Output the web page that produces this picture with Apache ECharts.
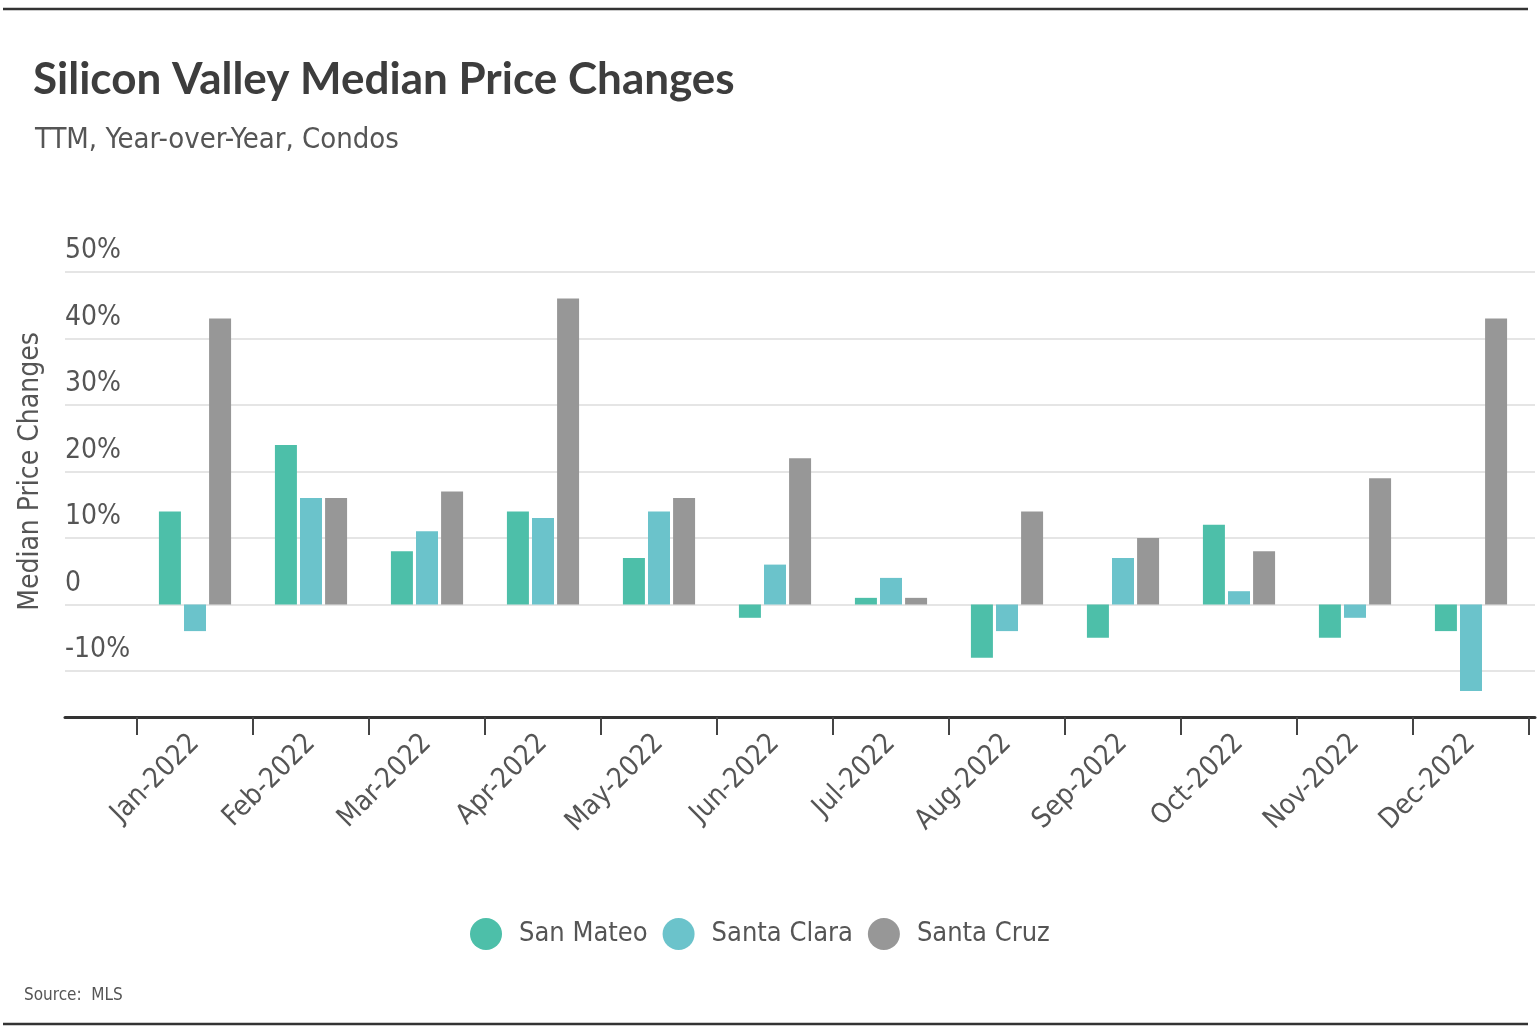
<!DOCTYPE html>
<html>
<head>
<meta charset="utf-8">
<script src="https://cdn.jsdelivr.net/npm/echarts@6/dist/echarts.min.js"></script>
<style>
  html, body { margin: 0; padding: 0; background: #fff; }
  #chart { width: 1540px; height: 1036px; }
</style>
</head>
<body>
<div id="chart"></div>
<script>
const categories = ['Jan-2022','Feb-2022','Mar-2022','Apr-2022','May-2022','Jun-2022','Jul-2022','Aug-2022','Sep-2022','Oct-2022','Nov-2022','Dec-2022'];
const sanMateo   = [14, 24, 8, 14, 7, -2, 1, -8, -5, 12, -5, -4];
const santaClara = [-4, 16, 11, 13, 14, 6, 4, -4, 7, 2, -2, -13];
const santaCruz  = [43, 16, 17, 46, 16, 22, 1, 14, 10, 8, 19, 43];
const yTicks = [-10, 0, 10, 20, 30, 40, 50];

const NARROW = '"Liberation Sans Narrow", "DejaVu Sans Condensed", "Roboto", sans-serif';
const TXT = '#555555';

const chart = echarts.init(document.getElementById('chart'));
const gridTop = 272, gridBottom = 1036 - 671;
chart.setOption({
  animation: false,
  backgroundColor: '#ffffff',
  title: [
    { text: 'Silicon Valley Median Price Changes', left: 28, top: 53,
      textStyle: { fontFamily: 'Lato, "Liberation Sans", sans-serif', fontWeight: 'bold', fontSize: 44, color: '#3d3d3d' } },
    { text: 'TTM, Year-over-Year, Condos', left: 30, top: 121,
      textStyle: { fontFamily: NARROW, fontWeight: 'normal', fontSize: 29, color: TXT } },
    { text: 'Source:  MLS', left: 19, top: 982,
      textStyle: { fontFamily: NARROW, fontWeight: 'normal', fontSize: 17, color: TXT } }
  ],
  graphic: [
    { type: 'line', shape: { x1: 3, y1: 9, x2: 1528, y2: 9 }, style: { stroke: '#333', lineWidth: 2.5 } },
    { type: 'line', shape: { x1: 3, y1: 1024, x2: 1528, y2: 1024 }, style: { stroke: '#333', lineWidth: 2.5 } }
  ],
  legend: {
    left: 465, top: 913,
    icon: 'circle', itemWidth: 32, itemHeight: 32, itemGap: 15,
    textStyle: { fontFamily: NARROW, fontSize: 27, color: TXT, padding: [0, 0, 0, 12] },
    data: ['San Mateo', 'Santa Clara', 'Santa Cruz']
  },
  grid: [
    { left: 65, right: 5, top: gridTop, bottom: gridBottom },
    { left: 137, right: 11, top: gridTop, bottom: gridBottom }
  ],
  xAxis: [
    { type: 'value', gridIndex: 0, min: 0, max: 1, offset: 46,
      axisLine: { show: true, onZero: false, lineStyle: { color: '#333', width: 3 } },
      axisTick: { show: false }, axisLabel: { show: false }, splitLine: { show: false } },
    { type: 'category', gridIndex: 1, data: categories, offset: 46,
      axisLine: { show: false, onZero: false },
      axisTick: { show: true, alignWithLabel: false, length: 18, lineStyle: { color: '#444', width: 2 } },
      axisLabel: { rotate: 45, margin: 22, fontFamily: NARROW, fontSize: 28, color: TXT, interval: 0,
        padding: [0, 0, 0, 0], align: 'right' } }
  ],
  yAxis: [
    { type: 'value', gridIndex: 0, min: -10, max: 50, interval: 10,
      name: 'Median Price Changes', nameLocation: 'middle', nameRotate: 90, nameGap: 20,
      nameTextStyle: { fontFamily: NARROW, fontSize: 28, color: TXT },
      axisLine: { show: false }, axisTick: { show: false },
      axisLabel: { inside: true, margin: 0, verticalAlign: 'bottom', padding: [0, 0, 7, 0],
        fontFamily: NARROW, fontSize: 28, color: TXT,
        formatter: v => v === 0 ? '0' : v + '%' },
      splitLine: { show: true, lineStyle: { color: '#dddddd', width: 1.5 } } },
    { type: 'value', gridIndex: 1, min: -10, max: 50, interval: 10, show: false,
      splitLine: { show: false } }
  ],
  series: [
    { name: 'San Mateo', type: 'bar', xAxisIndex: 1, yAxisIndex: 1, data: sanMateo, clip: false,
      barWidth: 22, barGap: '14%', itemStyle: { color: '#4dbfa9' } },
    { name: 'Santa Clara', type: 'bar', xAxisIndex: 1, yAxisIndex: 1, data: santaClara, clip: false,
      barWidth: 22, barGap: '14%', itemStyle: { color: '#6bc3cb' } },
    { name: 'Santa Cruz', type: 'bar', xAxisIndex: 1, yAxisIndex: 1, data: santaCruz, clip: false,
      barWidth: 22, barGap: '14%', itemStyle: { color: '#979797' } }
  ]
});
</script>
</body>
</html>
